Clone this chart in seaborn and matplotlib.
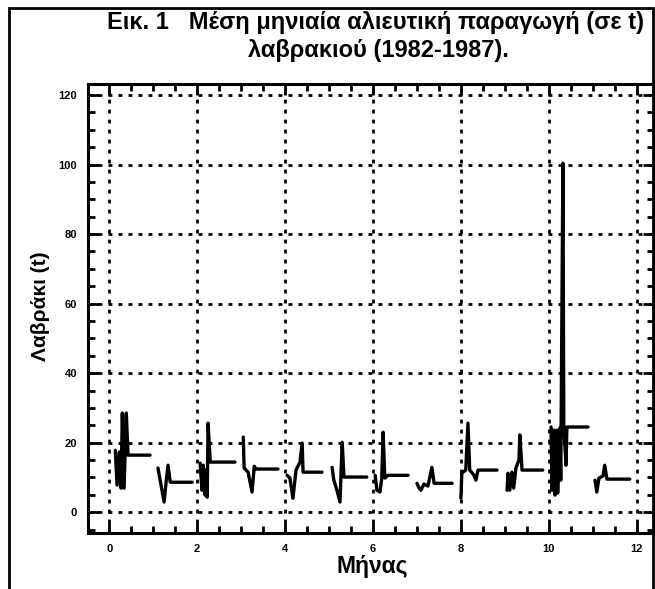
import numpy as np
import pandas as pd
import matplotlib
matplotlib.use("Agg")
import matplotlib.pyplot as plt
from matplotlib.ticker import MultipleLocator
import seaborn as sns

# monthly clusters (x = month position, y = tonnes)
m1_x = [0.14, 0.18, 0.23, 0.27, 0.30, 0.34, 0.39, 0.43, 0.93]
m1_y = [17.8, 7.8, 17.3, 6.9, 28.5, 6.9, 28.5, 16.4, 16.4]
m2_x = [1.11, 1.16, 1.25, 1.30, 1.34, 1.39, 1.89]
m2_y = [12.7, 9.2, 2.9, 9.2, 13.5, 8.6, 8.6]
m3_x = [2.07, 2.11, 2.14, 2.18, 2.20, 2.23, 2.25, 2.30, 2.86]
m3_y = [14.1, 6.3, 13.5, 4.9, 12.1, 4.3, 25.6, 14.4, 14.4]
m4_x = [3.05, 3.07, 3.16, 3.25, 3.30, 3.34, 3.84]
m4_y = [21.6, 12.7, 11.5, 5.8, 13.2, 12.4, 12.4]
m5_x = [4.05, 4.11, 4.18, 4.25, 4.34, 4.39, 4.41, 4.84]
m5_y = [10.6, 9.8, 4.0, 12.1, 14.4, 19.9, 11.5, 11.5]
m6_x = [5.07, 5.11, 5.18, 5.25, 5.30, 5.34, 5.86]
m6_y = [12.9, 9.2, 6.3, 2.9, 20.1, 10.1, 10.1]
m7_x = [6.05, 6.09, 6.16, 6.20, 6.23, 6.27, 6.34, 6.80]
m7_y = [10.6, 6.3, 5.8, 9.8, 23.0, 9.8, 10.6, 10.6]
m8_x = [7.00, 7.05, 7.09, 7.16, 7.25, 7.34, 7.39, 7.80]
m8_y = [8.3, 6.9, 6.3, 8.1, 7.5, 12.9, 8.3, 8.3]
m9_x = [8.00, 8.02, 8.11, 8.16, 8.20, 8.30, 8.34, 8.39, 8.82]
m9_y = [4.0, 11.2, 12.1, 25.6, 12.1, 10.6, 9.2, 12.1, 12.1]
m10_x = [9.05, 9.07, 9.11, 9.16, 9.20, 9.25, 9.32, 9.34, 9.39, 9.86]
m10_y = [6.3, 11.2, 6.3, 11.5, 6.9, 12.7, 15.0, 22.2, 12.1, 12.1]
m11_x = [10.05, 10.07, 10.11, 10.14, 10.18, 10.20, 10.25, 10.27, 10.32, 10.34, 10.39, 10.41, 10.89]
m11_y = [24.5, 6.3, 23.6, 4.9, 23.6, 5.5, 24.2, 9.2, 100.4, 24.5, 13.5, 24.5, 24.5]
m12_x = [11.05, 11.09, 11.14, 11.23, 11.27, 11.32, 11.84]
m12_y = [9.2, 5.8, 9.8, 10.4, 13.5, 9.5, 9.5]

x_ticks = [0, 2, 4, 6, 8, 10, 12]
y_ticks = [0, 20, 40, 60, 80, 100, 120]

title_1 = "Εικ. 1   Μέση μηνιαία αλιευτική παραγωγή (σε t)"
title_2 = "λαβρακιού (1982-1987)."
xlabel = "Μήνας"
ylabel = "Λαβράκι (t)"

xs = [m1_x, m2_x, m3_x, m4_x, m5_x, m6_x, m7_x, m8_x, m9_x, m10_x, m11_x, m12_x]
ys = [m1_y, m2_y, m3_y, m4_y, m5_y, m6_y, m7_y, m8_y, m9_y, m10_y, m11_y, m12_y]
frames = []
for i, (cx, cy) in enumerate(zip(xs, ys)):
    frames.append(pd.DataFrame({"x": cx, "y": cy, "month": i + 1}))
df = pd.concat(frames, ignore_index=True)

sns.set_theme(style="white")
plt.rcParams["font.family"] = ["Liberation Sans", "DejaVu Sans"]
plt.rcParams["text.color"] = "black"
plt.rcParams["axes.labelcolor"] = "black"
plt.rcParams["xtick.color"] = "black"
plt.rcParams["ytick.color"] = "black"

fig = plt.figure(figsize=(6.55, 5.89), dpi=100)
ax = fig.add_axes([0.1344, 0.0951, 0.864, 0.7623])

sns.lineplot(data=df, x="x", y="y", units="month", estimator=None, sort=False,
             color="black", lw=2.4, ax=ax, legend=False)

ax.set_xlim(-0.48, 12.39)
ax.set_ylim(-6, 123.2)
ax.set_xticks(x_ticks)
ax.set_yticks(y_ticks)
ax.xaxis.set_minor_locator(MultipleLocator(0.5))
ax.yaxis.set_minor_locator(MultipleLocator(5))
ax.tick_params(which="both", direction="in", top=True, right=True, bottom=True, left=True,
               color="black", width=2)
ax.tick_params(which="major", length=8, labelsize=8, pad=8)
ax.tick_params(which="minor", length=5)
for lab in ax.get_xticklabels() + ax.get_yticklabels():
    lab.set_fontweight("bold")

ax.grid(True, which="major", color="black", lw=2, linestyle=(0, (1.4, 2.2)))
for s in ax.spines.values():
    s.set_color("black")
    s.set_linewidth(2.2)

ax.set_xlabel("")
ax.set_ylabel("")
fig.text(0.568, 0.039, xlabel, ha="center", va="center", fontsize=16.5, fontweight="bold")
fig.text(0.062, 0.48, ylabel, ha="center", va="center", rotation=90, fontsize=15, fontweight="bold")
fig.text(0.573, 0.961, title_1, ha="center", va="center", fontsize=17, fontweight="bold")
fig.text(0.578, 0.915, title_2, ha="center", va="center", fontsize=17, fontweight="bold")

# scanned page frame
fig.add_artist(plt.Rectangle((0.0137, -0.1), 0.983, 1.086, transform=fig.transFigure,
                             fill=False, lw=2, color="black"))

fig.savefig("out.png", dpi=100, facecolor="white")
